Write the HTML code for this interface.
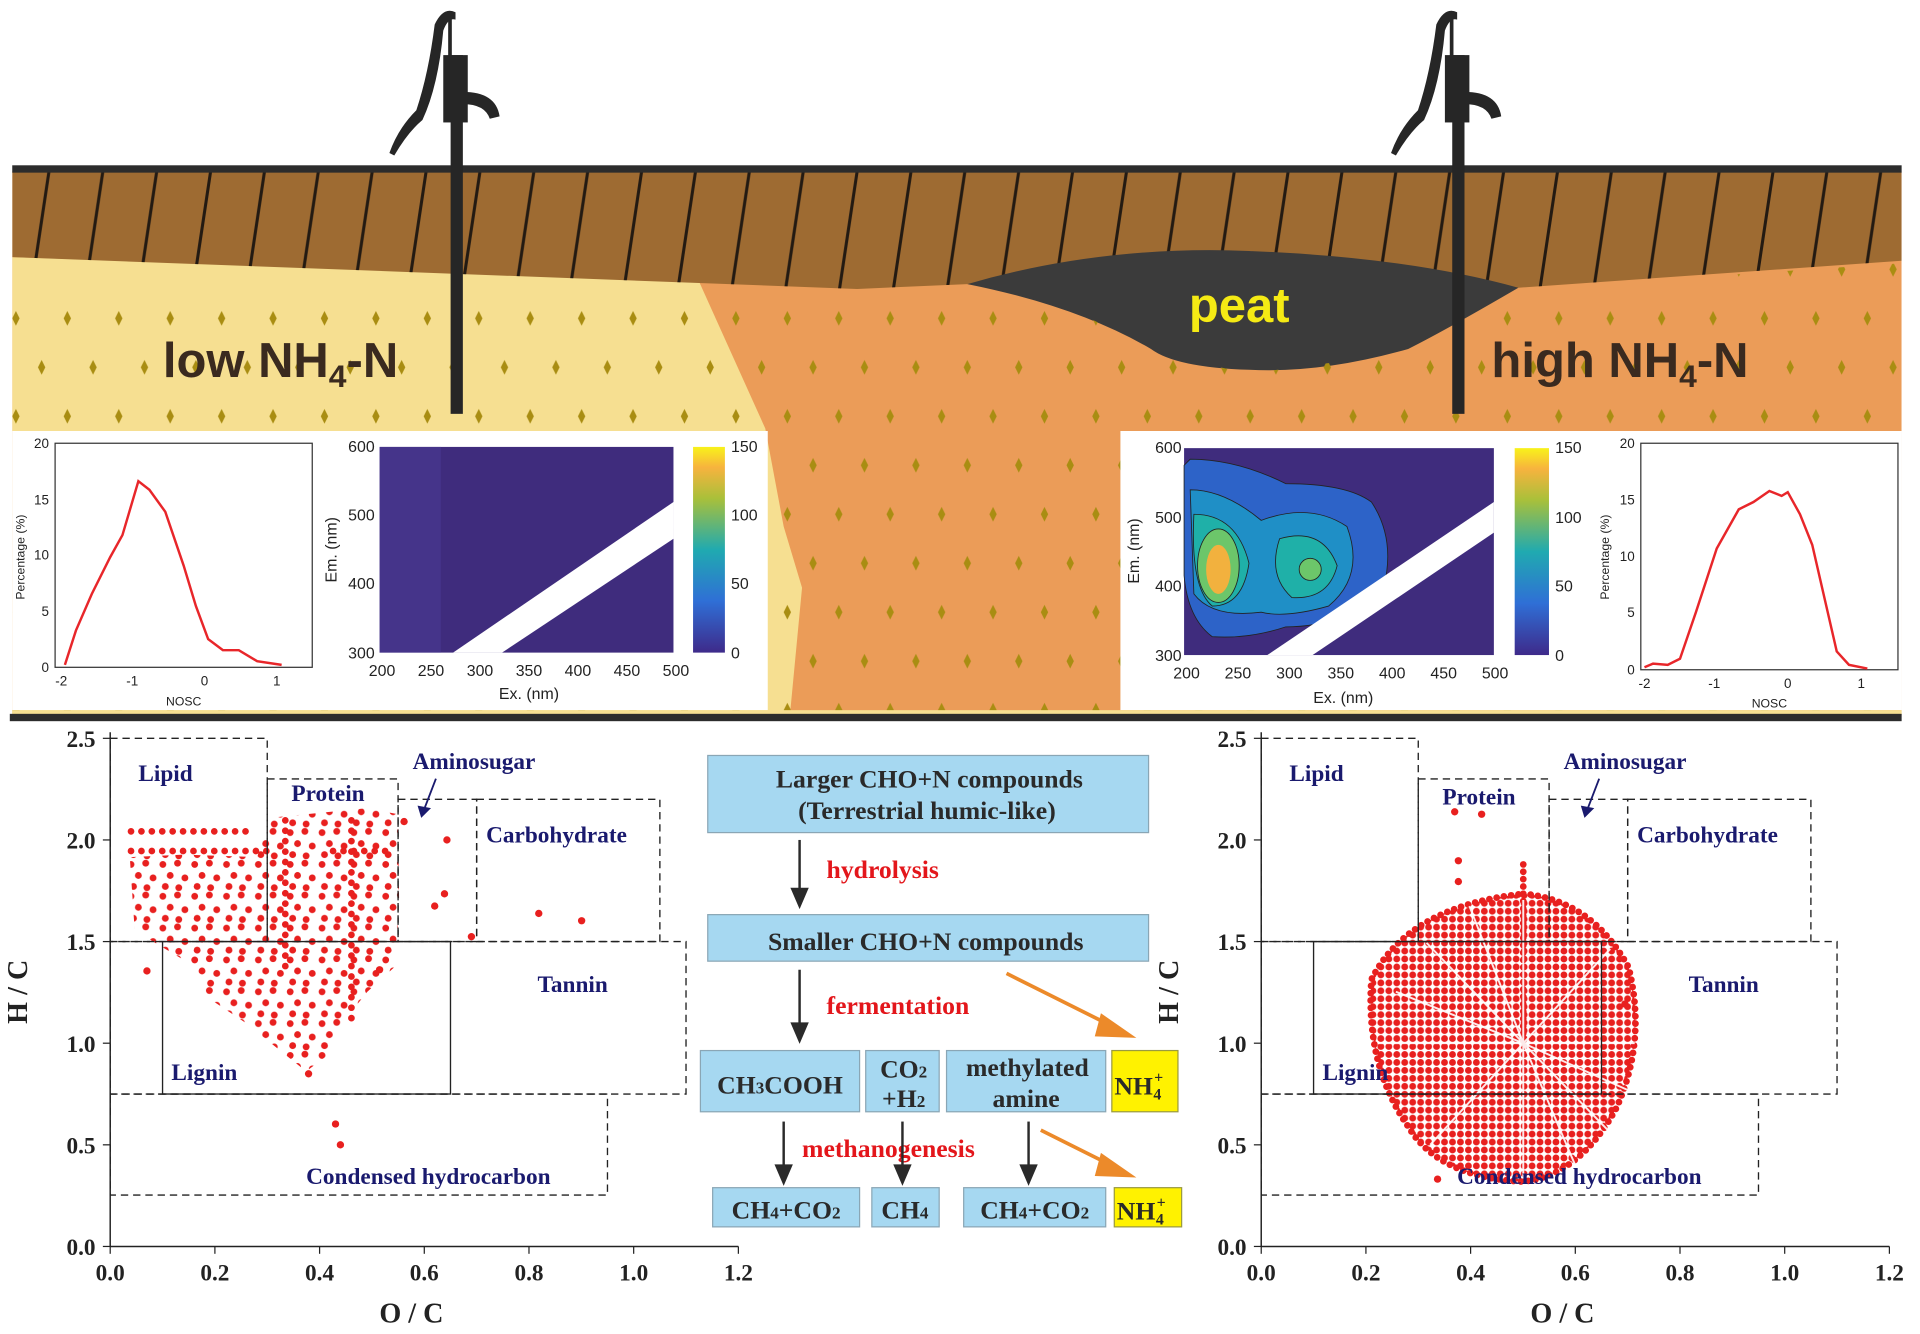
<!DOCTYPE html>
<html><head><meta charset="utf-8"><style>
html,body{margin:0;padding:0;background:#fff;}
svg{display:block;}
.ax{font-family:"Liberation Sans",sans-serif;fill:#222;}
.sr{font-family:"Liberation Serif",serif;font-weight:bold;}
</style></head><body>
<svg width="1920" height="1334" viewBox="0 0 1568 1089.5" preserveAspectRatio="none" xmlns="http://www.w3.org/2000/svg">
<defs>
<linearGradient id="par" x1="0" y1="1" x2="0" y2="0">
<stop offset="0" stop-color="#3e2a8a"/><stop offset="0.25" stop-color="#2f6fd6"/><stop offset="0.5" stop-color="#20aab0"/><stop offset="0.75" stop-color="#a9c03a"/><stop offset="0.9" stop-color="#f7b33e"/><stop offset="1" stop-color="#f8f21a"/>
</linearGradient>
<clipPath id="cl"><rect x="10" y="140" width="1543" height="445"/></clipPath>
<pattern id="hp" patternUnits="userSpaceOnUse" x="0" y="140" width="44" height="100">
<line x1="40" y1="0" x2="25" y2="100" stroke="#231a12" stroke-width="2.5"/>
</pattern>
<pattern id="dp" patternUnits="userSpaceOnUse" x="0" y="240" width="42" height="80">
<polygon points="13,14 16,20 13,26 10,20" fill="#a98d12"/>
<polygon points="34,54 37,60 34,66 31,60" fill="#a98d12"/>
</pattern>
<pattern id="rp" patternUnits="userSpaceOnUse" x="0" y="0" width="26" height="26">
<g fill="#e8201f"><circle cx="3" cy="4" r="2.8"/><circle cx="15" cy="3" r="2.8"/><circle cx="9" cy="13" r="2.8"/><circle cx="21" cy="15" r="2.8"/><circle cx="5" cy="22" r="2.8"/><circle cx="16" cy="23" r="2.8"/></g>
</pattern>
<pattern id="rp2" patternUnits="userSpaceOnUse" x="0" y="0" width="6.5" height="6.5">
<circle cx="3.2" cy="3.2" r="2.8" fill="#e8201f"/>
</pattern>
</defs>
<rect width="1568" height="1090" fill="#fff"/>
<!-- ground -->
<g clip-path="url(#cl)">
<rect x="10" y="140" width="1543" height="445" fill="#eb9c58"/>
<polygon points="10,210 570,228 625,350 640,430 655,480 645,585 10,585" fill="#f6df91"/>
<polygon points="10,140 1553,140 1553,213 1240,235 1020,205 790,232 700,236 10,210" fill="#9e6b32"/>
<polygon points="10,140 1553,140 1553,213 1240,235 1020,205 790,232 700,236 10,210" fill="url(#hp)"/>
<path d="M790,232 Q900,200 1020,205 Q1150,210 1240,235 Q1180,270 1150,285 Q1080,305 1020,302 Q960,300 940,285 Q880,250 790,232Z" fill="#3b3b3b"/>
<polygon points="10,232 570,232 625,350 640,430 655,480 645,585 10,585" fill="url(#dp)"/>
<polygon points="570,232 790,234 880,255 950,290 1020,305 1150,288 1240,236 1553,215 1553,585 645,585 655,480 640,430 625,350" fill="url(#dp)"/>
</g>
<rect x="10" y="135" width="1543" height="6" fill="#2c2c2c"/>
<text x="1012" y="263" font-family="Liberation Sans,sans-serif" font-weight="bold" font-size="40" fill="#f5ea14" text-anchor="middle">peat</text>
<text x="133" y="308" font-family="Liberation Sans,sans-serif" font-weight="bold" font-size="40" fill="#3a2a1f">low NH<tspan font-size="26" dy="8">4</tspan><tspan dy="-8">-N</tspan></text>
<text x="1218" y="308" font-family="Liberation Sans,sans-serif" font-weight="bold" font-size="40" fill="#3a2a1f">high NH<tspan font-size="26" dy="8">4</tspan><tspan dy="-8">-N</tspan></text>
<!-- pumps -->
<g id="pump1" fill="#262626">
<rect x="368" y="45" width="10" height="293"/>
<rect x="362" y="45" width="20" height="55"/>
<path d="M378,75 Q405,75 408,95 L400,97 Q396,85 378,85Z"/>
<path d="M372,10 Q362,5 355,20 Q350,60 340,90 Q325,105 318,125 L322,127 Q333,108 345,98 Q358,70 362,25 Q366,14 372,16Z"/>
<rect x="366" y="12" width="3" height="40"/>
</g>
<use href="#pump1" transform="translate(818,0)"/>
<!-- white panels -->
<rect x="10" y="352" width="617" height="228" fill="#fff"/>
<rect x="915" y="352" width="638" height="228" fill="#fff"/>
<rect x="10" y="580" width="1543" height="4" fill="#f6df91"/>
<rect x="8" y="583" width="1545" height="6" fill="#2c2c2c"/>

<!-- left line chart -->
<g class="ax" font-size="11">
<rect x="45" y="362" width="210" height="183" fill="none" stroke="#333" stroke-width="1"/>
<text x="40" y="366" text-anchor="end">20</text><text x="40" y="412" text-anchor="end">15</text><text x="40" y="457" text-anchor="end">10</text><text x="40" y="503" text-anchor="end">5</text><text x="40" y="549" text-anchor="end">0</text>
<text x="50" y="560" text-anchor="middle">-2</text><text x="108" y="560" text-anchor="middle">-1</text><text x="167" y="560" text-anchor="middle">0</text><text x="226" y="560" text-anchor="middle">1</text>
<text x="150" y="576" text-anchor="middle" font-size="10">NOSC</text>
<text transform="translate(20,455) rotate(-90)" text-anchor="middle" font-size="10">Percentage (%)</text>
<polyline fill="none" stroke="#e8262a" stroke-width="2" points="53,543 62,515 75,485 90,455 100,437 113,393 122,400 135,418 150,462 160,495 170,522 182,531 195,531 210,540 230,543"/>
</g>
<!-- left EEM -->
<g class="ax" font-size="13">
<rect x="310" y="365" width="240" height="168" fill="#3f2c7d"/>
<rect x="310" y="365" width="50" height="168" fill="#4a3a92" opacity="0.6"/>
<polygon points="370,533 410,533 550,440 550,410" fill="#fff"/>
<rect x="566" y="365" width="26" height="168" fill="url(#par)"/>
<text x="597" y="369">150</text><text x="597" y="425">100</text><text x="597" y="481">50</text><text x="597" y="538">0</text>
<text x="306" y="369" text-anchor="end">600</text><text x="306" y="425" text-anchor="end">500</text><text x="306" y="481" text-anchor="end">400</text><text x="306" y="538" text-anchor="end">300</text>
<text x="312" y="552" text-anchor="middle">200</text><text x="352" y="552" text-anchor="middle">250</text><text x="392" y="552" text-anchor="middle">300</text><text x="432" y="552" text-anchor="middle">350</text><text x="472" y="552" text-anchor="middle">400</text><text x="512" y="552" text-anchor="middle">450</text><text x="552" y="552" text-anchor="middle">500</text>
<text x="432" y="571" text-anchor="middle">Ex. (nm)</text>
<text transform="translate(275,449) rotate(-90)" text-anchor="middle">Em. (nm)</text>
</g>
<!-- right EEM -->
<g class="ax" font-size="13">
<rect x="967" y="366" width="253" height="169" fill="#3f2c7d"/>
<path d="M972,375 Q1010,375 1050,395 Q1100,395 1120,410 Q1140,440 1130,480 Q1100,512 1050,512 Q1020,522 990,520 Q970,505 967,470 L967,380Z" fill="#2d63c8" stroke="#222" stroke-width="0.7"/>
<path d="M972,400 Q1000,400 1030,425 Q1070,410 1100,430 Q1115,470 1085,495 Q1050,505 1030,500 Q990,505 975,485 Z" fill="#1f8fc6" stroke="#222" stroke-width="0.7"/>
<path d="M975,420 Q1010,420 1020,460 Q1015,495 990,495 Q972,480 975,420Z M1045,440 Q1080,430 1092,462 Q1085,490 1055,488 Q1035,470 1045,440Z" fill="#1fb0a8" stroke="#222" stroke-width="0.7"/>
<ellipse cx="995" cy="462" rx="17" ry="30" fill="#6cc66a" stroke="#222" stroke-width="0.7"/>
<ellipse cx="995" cy="465" rx="10" ry="20" fill="#f2b13e"/>
<ellipse cx="1070" cy="465" rx="9" ry="9" fill="#6cc66a" stroke="#222" stroke-width="0.7"/>
<polygon points="1035,535 1072,535 1220,435 1220,410" fill="#fff"/>
<rect x="1237" y="366" width="28" height="169" fill="url(#par)"/>
<text x="1270" y="370">150</text><text x="1270" y="427">100</text><text x="1270" y="483">50</text><text x="1270" y="540">0</text>
<text x="965" y="370" text-anchor="end">600</text><text x="965" y="427" text-anchor="end">500</text><text x="965" y="483" text-anchor="end">400</text><text x="965" y="540" text-anchor="end">300</text>
<text x="969" y="554" text-anchor="middle">200</text><text x="1011" y="554" text-anchor="middle">250</text><text x="1053" y="554" text-anchor="middle">300</text><text x="1095" y="554" text-anchor="middle">350</text><text x="1137" y="554" text-anchor="middle">400</text><text x="1179" y="554" text-anchor="middle">450</text><text x="1221" y="554" text-anchor="middle">500</text>
<text x="1097" y="574" text-anchor="middle">Ex. (nm)</text>
<text transform="translate(930,450) rotate(-90)" text-anchor="middle">Em. (nm)</text>
</g>
<!-- right line chart -->
<g class="ax" font-size="11">
<rect x="1340" y="362" width="210" height="185" fill="none" stroke="#333" stroke-width="1"/>
<text x="1335" y="366" text-anchor="end">20</text><text x="1335" y="412" text-anchor="end">15</text><text x="1335" y="458" text-anchor="end">10</text><text x="1335" y="504" text-anchor="end">5</text><text x="1335" y="551" text-anchor="end">0</text>
<text x="1343" y="562" text-anchor="middle">-2</text><text x="1400" y="562" text-anchor="middle">-1</text><text x="1460" y="562" text-anchor="middle">0</text><text x="1520" y="562" text-anchor="middle">1</text>
<text x="1445" y="578" text-anchor="middle" font-size="10">NOSC</text>
<text transform="translate(1314,455) rotate(-90)" text-anchor="middle" font-size="10">Percentage (%)</text>
<polyline fill="none" stroke="#e8262a" stroke-width="2" points="1343,545 1350,542 1362,543 1372,538 1385,500 1402,448 1420,416 1432,410 1445,401 1455,405 1460,402 1470,420 1480,445 1500,532 1510,543 1525,546"/>
</g>

<!-- LEFT SCATTER -->
<g id="chartL">
<line x1="90" y1="598" x2="90" y2="1018" stroke="#222" stroke-width="1.2"/>
<line x1="90" y1="1018" x2="603" y2="1018" stroke="#222" stroke-width="1.2"/>
<g stroke="#222">
<line x1="90" y1="1018" x2="90" y2="1024"/><line x1="175.5" y1="1018" x2="175.5" y2="1024"/><line x1="261" y1="1018" x2="261" y2="1024"/><line x1="346.5" y1="1018" x2="346.5" y2="1024"/><line x1="432" y1="1018" x2="432" y2="1024"/><line x1="517.5" y1="1018" x2="517.5" y2="1024"/><line x1="603" y1="1018" x2="603" y2="1024"/>
<line x1="84" y1="1018" x2="90" y2="1018"/><line x1="84" y1="935" x2="90" y2="935"/><line x1="84" y1="852" x2="90" y2="852"/><line x1="84" y1="769" x2="90" y2="769"/><line x1="84" y1="686" x2="90" y2="686"/><line x1="84" y1="603" x2="90" y2="603"/>
</g>
<g class="sr" font-size="19" fill="#222" text-anchor="middle">
<text x="90" y="1046">0.0</text><text x="175.5" y="1046">0.2</text><text x="261" y="1046">0.4</text><text x="346.5" y="1046">0.6</text><text x="432" y="1046">0.8</text><text x="517.5" y="1046">1.0</text><text x="603" y="1046">1.2</text>
</g>
<g class="sr" font-size="19" fill="#222" text-anchor="end">
<text x="78" y="1025">0.0</text><text x="78" y="942">0.5</text><text x="78" y="859">1.0</text><text x="78" y="776">1.5</text><text x="78" y="693">2.0</text><text x="78" y="610">2.5</text>
</g>
<text x="336" y="1080" text-anchor="middle" class="sr" font-size="23" fill="#222">O / C</text>
<text transform="translate(22,810) rotate(-90)" text-anchor="middle" class="sr" font-size="23" fill="#222">H / C</text>
<!-- points -->
<path d="M106,700 L150,698 L210,700 L220,668 L300,660 L325,665 L326,740 L322,790 L300,810 L280,835 L270,860 L250,875 L200,835 L170,815 L160,790 L130,772 L110,760 Z" fill="url(#rp)"/>
<g stroke="#e8201f" stroke-width="5.5" stroke-linecap="round" stroke-dasharray="0 8.5" fill="none">
<line x1="107" y1="679" x2="202" y2="679"/><line x1="107" y1="695" x2="222" y2="695"/><line x1="272" y1="695" x2="317" y2="695"/>
<line x1="287" y1="670" x2="287" y2="840"/><line x1="233" y1="670" x2="233" y2="790"/>
</g>
<g fill="#e8201f">
<circle cx="355" cy="740" r="3"/><circle cx="363" cy="730" r="3"/><circle cx="365" cy="686" r="3"/><circle cx="440" cy="746" r="3"/><circle cx="475" cy="752" r="3"/><circle cx="252" cy="877" r="3"/><circle cx="274" cy="918" r="3"/><circle cx="278" cy="935" r="3"/><circle cx="120" cy="793" r="3"/><circle cx="385" cy="765" r="3"/><circle cx="330" cy="671" r="3"/><circle cx="310" cy="792" r="3"/>
</g>
<g stroke="#222" stroke-width="1.1" fill="none" stroke-dasharray="6,4">
<rect x="90" y="603" width="128.25" height="166"/>
<rect x="218.25" y="636.2" width="106.85" height="132.8"/>
<rect x="325.1" y="652.8" width="64.15" height="116.2"/>
<rect x="389.25" y="652.8" width="149.65" height="116.2"/>
<rect x="90" y="769" width="470.25" height="124.5"/>
<rect x="90" y="893.5" width="406.1" height="82.5"/>
</g>
<rect x="132.75" y="769" width="235.15" height="124.5" fill="none" stroke="#222" stroke-width="1.1"/>
<g class="sr" font-size="19" fill="#1a1a6e">
<text x="113" y="638">Lipid</text><text x="238" y="654">Protein</text><text x="337" y="628">Aminosugar</text><text x="397" y="688">Carbohydrate</text><text x="439" y="810">Tannin</text><text x="140" y="882">Lignin</text><text x="250" y="967">Condensed hydrocarbon</text>
</g>
<line x1="356" y1="636" x2="346" y2="662" stroke="#1a1a6e" stroke-width="1.5"/>
<polygon points="341,658 352,660 344,668" fill="#1a1a6e"/>
</g>

<!-- RIGHT SCATTER -->
<g id="chartR">
<line x1="1030" y1="598" x2="1030" y2="1018" stroke="#222" stroke-width="1.2"/>
<line x1="1030" y1="1018" x2="1543" y2="1018" stroke="#222" stroke-width="1.2"/>
<g stroke="#222">
<line x1="1030" y1="1018" x2="1030" y2="1024"/><line x1="1115.5" y1="1018" x2="1115.5" y2="1024"/><line x1="1201" y1="1018" x2="1201" y2="1024"/><line x1="1286.5" y1="1018" x2="1286.5" y2="1024"/><line x1="1372" y1="1018" x2="1372" y2="1024"/><line x1="1457.5" y1="1018" x2="1457.5" y2="1024"/><line x1="1543" y1="1018" x2="1543" y2="1024"/>
<line x1="1024" y1="1018" x2="1030" y2="1018"/><line x1="1024" y1="935" x2="1030" y2="935"/><line x1="1024" y1="852" x2="1030" y2="852"/><line x1="1024" y1="769" x2="1030" y2="769"/><line x1="1024" y1="686" x2="1030" y2="686"/><line x1="1024" y1="603" x2="1030" y2="603"/>
</g>
<g class="sr" font-size="19" fill="#222" text-anchor="middle">
<text x="1030" y="1046">0.0</text><text x="1115.5" y="1046">0.2</text><text x="1201" y="1046">0.4</text><text x="1286.5" y="1046">0.6</text><text x="1372" y="1046">0.8</text><text x="1457.5" y="1046">1.0</text><text x="1543" y="1046">1.2</text>
</g>
<g class="sr" font-size="19" fill="#222" text-anchor="end">
<text x="1018" y="1025">0.0</text><text x="1018" y="942">0.5</text><text x="1018" y="859">1.0</text><text x="1018" y="776">1.5</text><text x="1018" y="693">2.0</text><text x="1018" y="610">2.5</text>
</g>
<text x="1276" y="1080" text-anchor="middle" class="sr" font-size="23" fill="#222">O / C</text>
<text transform="translate(962,810) rotate(-90)" text-anchor="middle" class="sr" font-size="23" fill="#222">H / C</text>
<!-- starburst -->
<path d="M1244,730 Q1300,735 1330,790 Q1345,850 1320,905 Q1290,960 1244,965 Q1175,962 1150,920 Q1115,870 1120,800 Q1150,740 1244,730Z" fill="url(#rp2)"/>
<g stroke="#e8201f" stroke-width="5.5" stroke-linecap="round" stroke-dasharray="0 6" fill="none">
<path d="M1244,730 Q1300,735 1330,790 Q1345,850 1320,905 Q1290,960 1244,965 Q1175,962 1150,920 Q1115,870 1120,800 Q1150,740 1244,730Z"/>
<line x1="1244" y1="850" x2="1244" y2="700"/>
</g>
<g stroke="#fff" stroke-width="1.6" fill="none" opacity="0.9">
<line x1="1244" y1="852" x2="1244" y2="735"/><line x1="1244" y1="852" x2="1244" y2="962"/>
<line x1="1244" y1="852" x2="1125" y2="852"/><line x1="1244" y1="852" x2="1335" y2="852"/>
<line x1="1244" y1="852" x2="1165" y2="770"/><line x1="1244" y1="852" x2="1318" y2="928"/>
<line x1="1244" y1="852" x2="1315" y2="775"/><line x1="1244" y1="852" x2="1168" y2="935"/>
<line x1="1244" y1="852" x2="1140" y2="810"/><line x1="1244" y1="852" x2="1340" y2="895"/>
<line x1="1244" y1="852" x2="1200" y2="740"/><line x1="1244" y1="852" x2="1290" y2="960"/>
</g>
<g fill="#e8201f">
<circle cx="1188" cy="663" r="3"/><circle cx="1210" cy="665" r="3"/><circle cx="1191" cy="703" r="3"/><circle cx="1191" cy="720" r="3"/><circle cx="1174" cy="963" r="3"/><circle cx="1327" cy="820" r="3"/>
</g>
<g stroke="#222" stroke-width="1.1" fill="none" stroke-dasharray="6,4">
<rect x="1030" y="603" width="128.25" height="166"/>
<rect x="1158.25" y="636.2" width="106.85" height="132.8"/>
<rect x="1265.1" y="652.8" width="64.15" height="116.2"/>
<rect x="1329.25" y="652.8" width="149.65" height="116.2"/>
<rect x="1030" y="769" width="470.25" height="124.5"/>
<rect x="1030" y="893.5" width="406.1" height="82.5"/>
</g>
<rect x="1072.75" y="769" width="235.15" height="124.5" fill="none" stroke="#222" stroke-width="1.1"/>
<g class="sr" font-size="19" fill="#1a1a6e">
<text x="1053" y="638">Lipid</text><text x="1178" y="657">Protein</text><text x="1277" y="628">Aminosugar</text><text x="1337" y="688">Carbohydrate</text><text x="1379" y="810">Tannin</text><text x="1080" y="882">Lignin</text><text x="1190" y="967">Condensed hydrocarbon</text>
</g>
<line x1="1306" y1="636" x2="1296" y2="662" stroke="#1a1a6e" stroke-width="1.5"/>
<polygon points="1291,658 1302,660 1294,668" fill="#1a1a6e"/>
</g>

<!-- flow -->
<g class="sr" font-size="21" fill="#2a2a2a" text-anchor="middle">
<g fill="#a6d8f1" stroke="#8aa6b5" stroke-width="1">
<rect x="578" y="617" width="360" height="63"/>
<rect x="578" y="747" width="360" height="38"/>
<rect x="572" y="858" width="130" height="50"/>
<rect x="707" y="858" width="60" height="50"/>
<rect x="773" y="858" width="130" height="50"/>
<rect x="582" y="970" width="120" height="32"/>
<rect x="712" y="970" width="55" height="32"/>
<rect x="787" y="970" width="116" height="32"/>
</g>
<g fill="#fff200" stroke="#9a9a40" stroke-width="1">
<rect x="908" y="858" width="54" height="50"/>
<rect x="910" y="970" width="55" height="32"/>
</g>
<text x="759" y="643">Larger CHO+N compounds</text>
<text x="757" y="669">(Terrestrial humic-like)</text>
<text x="756" y="776">Smaller CHO+N compounds</text>
<text x="637" y="893">CH<tspan font-size="14">3</tspan>COOH</text>
<text x="738" y="880">CO<tspan font-size="14">2</tspan></text>
<text x="738" y="904">+H<tspan font-size="14">2</tspan></text>
<text x="839" y="879">methylated</text>
<text x="838" y="904">amine</text>
<text x="930" y="894">NH<tspan font-size="13" dx="1" dy="-10">+</tspan><tspan font-size="13" dx="-8" dy="14">4</tspan></text>
<text x="642" y="995">CH<tspan font-size="14">4</tspan>+CO<tspan font-size="14">2</tspan></text>
<text x="739" y="995">CH<tspan font-size="14">4</tspan></text>
<text x="845" y="995">CH<tspan font-size="14">4</tspan>+CO<tspan font-size="14">2</tspan></text>
<text x="932" y="996">NH<tspan font-size="13" dx="1" dy="-10">+</tspan><tspan font-size="13" dx="-8" dy="14">4</tspan></text>
<g fill="#e3161b" text-anchor="start">
<text x="675" y="717">hydrolysis</text>
<text x="675" y="828">fermentation</text>
<text x="655" y="945">methanogenesis</text>
</g>
</g>
<g stroke="#2a2a2a" stroke-width="2" fill="#2a2a2a">
<line x1="653" y1="686" x2="653" y2="728"/><polygon points="647,726 659,726 653,740"/>
<line x1="653" y1="792" x2="653" y2="838"/><polygon points="647,836 659,836 653,850"/>
<line x1="640" y1="916" x2="640" y2="954"/><polygon points="634,952 646,952 640,966"/>
<line x1="737" y1="916" x2="737" y2="954"/><polygon points="731,952 743,952 737,966"/>
<line x1="840" y1="916" x2="840" y2="954"/><polygon points="834,952 846,952 840,966"/>
</g>
<g stroke="#ec8a2a" stroke-width="3" fill="#ec8a2a">
<line x1="822" y1="795" x2="908" y2="838"/><polygon points="900,830 923,846 896,845"/>
<line x1="850" y1="923" x2="908" y2="952"/><polygon points="900,944 923,960 896,959"/>
</g>
</svg>
</body></html>
